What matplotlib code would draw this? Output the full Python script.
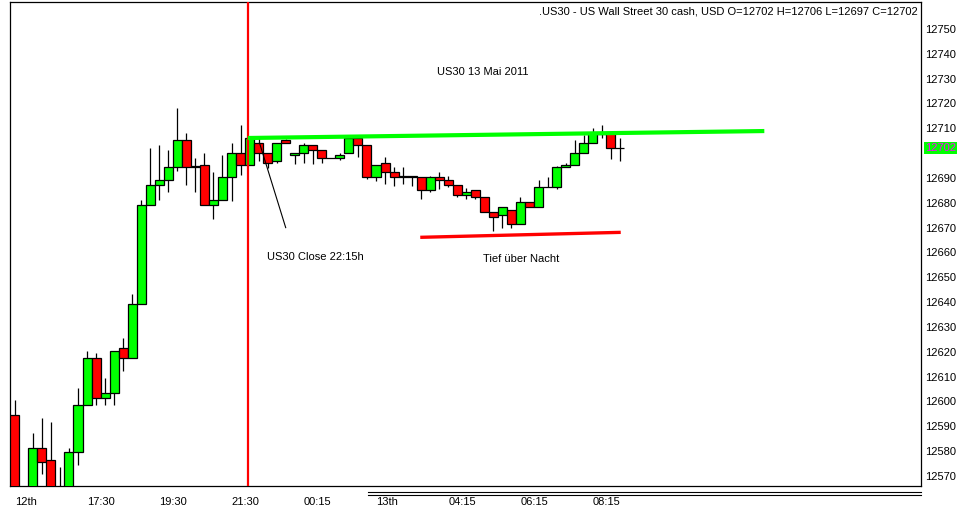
import numpy as np
import matplotlib
matplotlib.use("Agg")
import matplotlib.pyplot as plt
import matplotlib.transforms as mtransforms

plt.rcParams['font.family'] = ['Liberation Sans', 'DejaVu Sans']

# 15 min candles, US30, 12th/13th May 2011
opens = [12594.4, 12562.0, 12558.0, 12581.1, 12576.4, 12562.0, 12560.0, 12579.6,
         12598.4, 12617.4, 12601.3, 12603.3, 12621.4, 12617.4, 12639.1, 12679.0,
         12687.0, 12689.1, 12694.3, 12705.2, 12694.3, 12695.1, 12679.0, 12681.0,
         12690.3, 12700.0, 12695.2, 12704.0, 12700.0, 12697.0, 12705.2, 12699.1,
         12700.0, 12703.2, 12701.1, 12697.9, 12697.9, 12700.0, 12706.0, 12703.2,
         12690.3, 12695.9, 12692.3, 12690.3, 12690.9, 12690.3, 12685.0, 12690.3,
         12689.1, 12687.0, 12683.0, 12685.0, 12682.2, 12676.2, 12675.0, 12677.0,
         12671.4, 12680.2, 12678.2, 12686.2, 12686.2, 12694.3, 12695.1, 12700.0,
         12704.0, 12707.8, 12708.0, 12702.0]
highs = [12600.6, 12564.0, 12587.4, 12593.3, 12591.6, 12573.7, 12581.1, 12605.4,
         12620.3, 12619.5, 12609.4, 12620.2, 12625.6, 12643.3, 12681.1, 12702.1,
         12703.3, 12701.3, 12718.2, 12708.1, 12698.0, 12700.1, 12692.5, 12699.3,
         12704.1, 12711.3, 12707.0, 12706.0, 12700.0, 12704.0, 12705.5, 12700.0,
         12704.2, 12703.2, 12701.1, 12697.9, 12700.0, 12706.0, 12706.0, 12703.2,
         12695.1, 12698.5, 12694.5, 12694.5, 12690.9, 12690.3, 12690.9, 12692.3,
         12690.9, 12687.0, 12686.0, 12685.0, 12682.2, 12676.2, 12678.2, 12677.0,
         12682.2, 12680.2, 12689.1, 12690.3, 12694.8, 12695.9, 12705.2, 12707.2,
         12710.0, 12711.3, 12708.5, 12706.0]
lows = [12555.0, 12552.0, 12555.0, 12570.7, 12558.0, 12554.0, 12556.0, 12574.5,
        12598.4, 12598.7, 12598.7, 12598.7, 12612.4, 12617.4, 12639.1, 12679.0,
        12681.3, 12684.4, 12693.0, 12687.3, 12684.5, 12679.0, 12673.4, 12681.0,
        12680.6, 12691.3, 12695.2, 12697.0, 12694.0, 12696.0, 12704.0, 12695.5,
        12696.0, 12695.5, 12696.0, 12697.9, 12697.4, 12700.0, 12698.3, 12689.6,
        12688.7, 12687.5, 12686.6, 12687.5, 12686.6, 12681.4, 12684.4, 12685.4,
        12686.5, 12682.5, 12681.4, 12681.4, 12676.2, 12668.5, 12669.7, 12670.0,
        12671.4, 12678.2, 12678.2, 12686.2, 12685.4, 12694.3, 12695.1, 12700.0,
        12704.0, 12706.0, 12697.5, 12697.0]
closes = [12560.0, 12558.0, 12581.1, 12575.5, 12562.0, 12560.0, 12579.6, 12598.4,
          12617.4, 12601.3, 12603.3, 12620.2, 12617.4, 12639.1, 12679.0, 12687.0,
          12689.1, 12694.3, 12705.2, 12694.3, 12695.0, 12679.0, 12681.0, 12690.3,
          12700.0, 12695.1, 12706.0, 12700.0, 12695.9, 12704.0, 12704.0, 12700.0,
          12703.2, 12701.1, 12697.9, 12698.1, 12699.1, 12706.0, 12703.2, 12690.3,
          12695.1, 12692.3, 12690.3, 12690.9, 12690.3, 12685.0, 12690.3, 12689.1,
          12687.0, 12683.0, 12684.2, 12682.2, 12676.2, 12674.2, 12678.2, 12671.4,
          12680.2, 12678.2, 12686.2, 12686.4, 12694.3, 12695.1, 12700.0, 12704.0,
          12708.0, 12708.2, 12702.0, 12702.0]

time_ticks = [0, 8, 16, 24, 32, 40, 48, 56, 64]
time_labels = ['12th', '17:30', '19:30', '21:30', '00:15', '13th', '04:15', '06:15', '08:15']
price_ticks = [12570, 12580, 12590, 12600, 12610, 12620, 12630, 12640, 12650,
               12660, 12670, 12680, 12690, 12710, 12720, 12730, 12740, 12750]

# trend lines drawn on the chart (bar index, price)
resistance_x = [25.8, 83.0]
resistance_y = [12706.1, 12708.9]
support_x = [44.9, 67.1]
support_y = [12666.1, 12668.1]
close_bar = 25.85
last_price = 12702

UP = '#00ff00'
DOWN = '#ff0000'


def draw_candles(ax, o, h, l, c):
    o, h, l, c = map(np.asarray, (o, h, l, c))
    x = np.arange(len(o))
    ax.vlines(x, l, h, color='black', lw=0.9, zorder=2)
    colors = [UP if cc >= oo else DOWN for oo, cc in zip(o, c)]
    bottom = np.minimum(o, c)
    height = np.abs(c - o)
    ax.bar(x, height, width=1.0, bottom=bottom, color=colors,
           edgecolor='black', linewidth=0.9, zorder=3)


fig = plt.figure(figsize=(9.62, 5.14), dpi=100)
ax = fig.add_axes([10/962, 28/514, 911/962, 484/514])

draw_candles(ax, opens, highs, lows, closes)

ax.axvline(close_bar, color='#ff0000', lw=1.6, zorder=4)
ax.plot(resistance_x, resistance_y, color='#00ff00', lw=3, zorder=5,
        solid_capstyle='butt')
ax.plot(support_x, support_y, color='#ff0000', lw=2.4, zorder=5,
        solid_capstyle='butt')
ax.plot([27.1, 30.0], [12704.1, 12670.0], color='black', lw=0.8, zorder=6)

ax.set_xlim(-0.53, 100.35)
ax.set_ylim(12565.95, 12760.87)

ax.yaxis.tick_right()
ax.set_yticks(price_ticks)
ax.set_yticklabels([str(p) for p in price_ticks], fontsize=8)
ax.set_xticks(time_ticks)
ax.set_xticklabels(time_labels, fontsize=8)
for lbl in ax.get_xticklabels():
    lbl.set_ha('left')
ax.tick_params(axis='both', length=0)
ax.tick_params(axis='x', pad=8)
ax.tick_params(axis='y', pad=3)
for sp in ax.spines.values():
    sp.set_linewidth(0.9)

# current price marker on the price axis
trans = mtransforms.blended_transform_factory(ax.transAxes, ax.transData)
ax.text(1.0045, last_price, str(last_price), transform=trans, fontsize=8,
        color='#ff00ff', va='center', ha='left',
        bbox=dict(facecolor='#00ff00', edgecolor='none', pad=0.6))

# day separator under the axis
trans_x = mtransforms.blended_transform_factory(ax.transData, ax.transAxes)
for yy in (-0.013, -0.018):
    ax.plot([39.1, 100.35], [yy, yy], color='black', lw=0.8,
            transform=trans_x, clip_on=False)

ax.text(0.9967, 0.981, '.US30 - US Wall Street 30 cash, USD O=12702 H=12706 L=12697 C=12702',
        transform=ax.transAxes, ha='right', va='center', fontsize=8)
ax.text(46.75, 12732.8, 'US30 13 Mai 2011', fontsize=8, va='center')
ax.text(27.9, 12658.1, 'US30 Close 22:15h', fontsize=8, va='center')
ax.text(51.85, 12657.3, 'Tief über Nacht', fontsize=8, va='center')

fig.savefig('out.png', dpi=100)
